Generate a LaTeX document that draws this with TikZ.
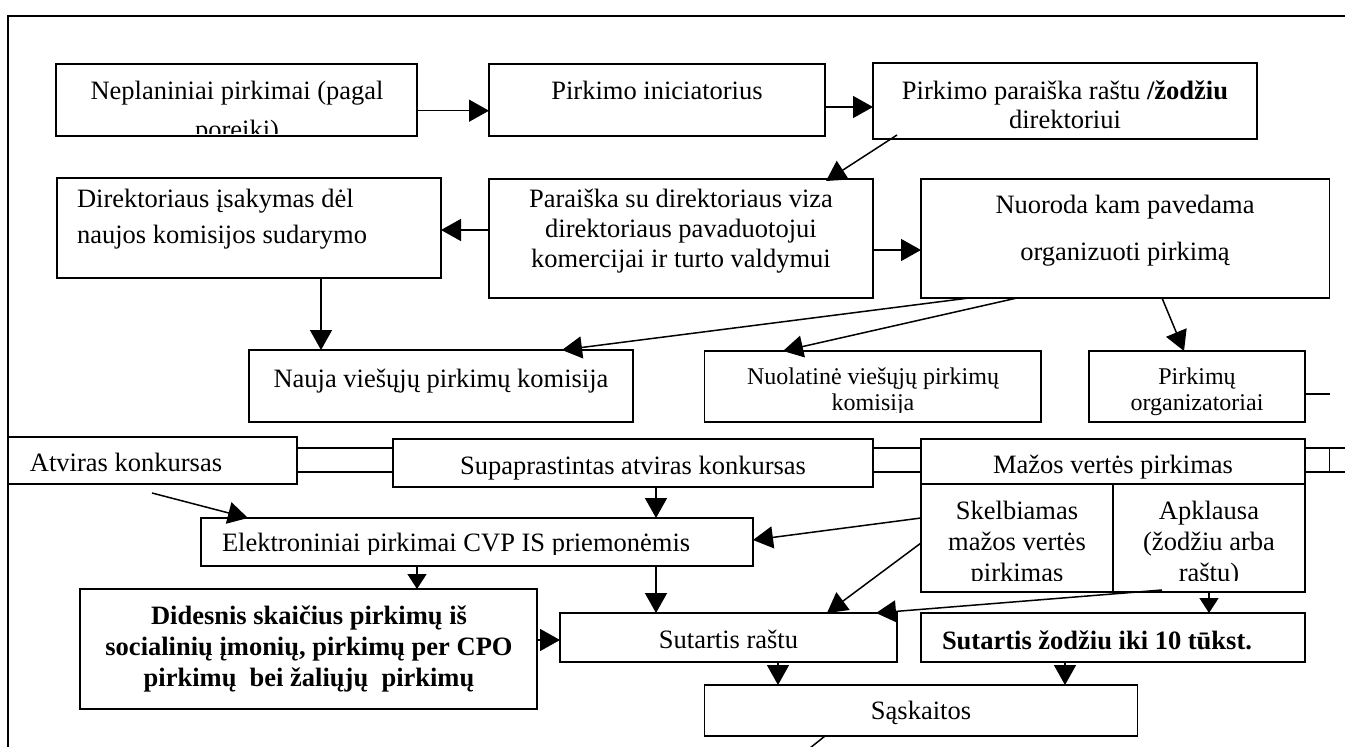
\documentclass[tikz,border=0pt]{standalone}
\usepackage{fontspec}
\setmainfont{Liberation Serif}
\usetikzlibrary{arrows.meta}

\tikzset{
  frameline/.style={line width=2pt},
  box/.style={draw, line width=1.8pt, rectangle, inner sep=0pt, outer sep=0pt},
  lbl/.style={inner sep=0pt, outer sep=0pt, anchor=base, font=\fontsize{26.5}{31}\selectfont},
  lblsm/.style={lbl, font=\fontsize{24}{28}\selectfont},
  lblb/.style={lbl, font=\fontsize{26.5}{31}\selectfont\bfseries},
  arr/.style={line width=1.5pt, -{Triangle[length=20pt,width=22pt]}},
  arrshort/.style={line width=1.5pt, -{Triangle[length=15pt,width=19pt]}},
  link/.style={line width=1.5pt},
}

% box name, left, top, right, bottom
\newcommand\mkbox[5]{%
  \node[box, minimum width={#4-#2}, minimum height={#5-#3}] (#1) at ({(#2+#4)/2},{(#3+#5)/2}) {};}

\begin{document}
\begin{tikzpicture}[x=1pt,y=-1pt]
\useasboundingbox (0,0) rectangle (1345,747);
\fill[white] (0,0) rectangle (1345,747);

% outer frame (top and left sides)
\draw[frameline] (8,748) -- (8,16) -- (1346,16);

% boxes
\mkbox{nep}{56}{64}{417}{136}
\mkbox{inic}{489}{64}{825}{136}
\mkbox{parr}{873}{63}{1257}{139}
\mkbox{ord}{57}{178}{441}{278}
\mkbox{viza}{489}{179}{873}{298}
\mkbox{nuor}{921}{179}{1329.5}{298}
\mkbox{nauja}{249}{350}{633}{422}
\mkbox{nuol}{704.5}{351}{1041}{422}
\mkbox{org}{1089}{351}{1305}{422}
\mkbox{atv}{8}{437}{297}{484}
\mkbox{sup}{393}{439}{873}{487}
\mkbox{maz}{921}{439}{1305}{484}
\mkbox{skel}{921}{484}{1113}{592}
\mkbox{apk}{1113}{484}{1305}{592}
\mkbox{elek}{201}{518}{753}{566}
\mkbox{did}{80}{589}{537}{709}
\mkbox{sutr}{560}{613}{897}{662}
\mkbox{sutz}{921}{613}{1305}{662}
\mkbox{sask}{704.5}{685}{1137.5}{736}

% texts
\node[lbl] (t-nep1) at (237,99) {Neplaniniai pirkimai (pagal};
\begin{scope}
  \clip (56,64) rectangle (417,133.5);
  \node[lbl] (t-nep2) at (237,138) {poreikį)};
\end{scope}
\node[lbl] (t-inic) at (657,99) {Pirkimo iniciatorius};
\node[lbl] (t-parr1) at (1065,99) {Pirkimo paraiška raštu \textbf{/žodžiu}};
\node[lbl] (t-parr2) at (1065,128) {direktoriui};

\node[lbl, anchor=base west] (t-ord1) at (77,207) {Direktoriaus įsakymas dėl};
\node[lbl, anchor=base west] (t-ord2) at (77,243) {naujos komisijos sudarymo};

\node[lbl] (t-viza1) at (681,207) {Paraiška su direktoriaus viza};
\node[lbl] (t-viza2) at (681,237) {direktoriaus pavaduotojui};
\node[lbl] (t-viza3) at (681,267) {komercijai ir turto valdymui};

\node[lbl] (t-nuor1) at (1125,213) {Nuoroda kam pavedama};
\node[lbl] (t-nuor2) at (1125,260) {organizuoti pirkimą};

\node[lbl] (t-nauja) at (441,387) {Nauja viešųjų pirkimų komisija};

\node[lblsm] (t-nuol1) at (873,384) {Nuolatinė viešųjų pirkimų};
\begin{scope}
  \clip (704.5,351) rectangle (1041,412.5);
  \node[lblsm] (t-nuol2) at (873,410) {komisija};
\end{scope}

\node[lblsm] (t-org1) at (1197,384) {Pirkimų};
\node[lblsm] (t-org2) at (1197,410) {organizatoriai};

\node[lbl, anchor=base west] (t-atv) at (30,471) {Atviras konkursas};
\node[lbl] (t-sup) at (633,474) {Supaprastintas atviras konkursas};
\node[lbl] (t-maz) at (1113,473) {Mažos vertės pirkimas};

\node[lbl] (t-skel1) at (1017,519) {Skelbiamas};
\node[lbl] (t-skel2) at (1017,550) {mažos vertės};
\node[lbl] (t-apk1) at (1209,519) {Apklausa};
\node[lbl] (t-apk2) at (1209,550) {(žodžiu arba};
\begin{scope}
  \clip (921,484) rectangle (1305,580.5);
  \node[lbl] (t-skel3) at (1017,581) {pirkimas};
  \node[lbl] (t-apk3) at (1209,581) {raštu)};
\end{scope}

\begin{scope}
  \clip (201,518) rectangle (753,554.5);
  \node[lbl, anchor=base west] (t-elek) at (222,551) {Elektroniniai pirkimai CVP IS priemonėmis};
\end{scope}

\node[lblb] (t-did1) at (309,624) {Didesnis skaičius pirkimų iš};
\node[lblb] (t-did2) at (309,655) {socialinių įmonių, pirkimų per CPO};
\node[lblb] (t-did3) at (309,686) {pirkimų\ \ bei žaliųjų\ \ pirkimų};

\node[lbl] (t-sutr) at (728.5,648) {Sutartis raštu};
\node[lblb, anchor=base west] (t-sutz) at (942,649) {Sutartis žodžiu iki 10 tūkst.};
\node[lbl] (t-sask) at (921,719) {Sąskaitos};

% free ends
\coordinate (orgend) at (1329.5,394);
\coordinate (rtop) at (1346,448);
\coordinate (rbot) at (1346,472);
\coordinate (ticktop) at (1329.5,448);
\coordinate (tickbot) at (1329.5,472);
\coordinate (atvstart) at (152,493);
\coordinate (saskend) at (810,748);

% upper flow
\draw[arr] ([yshift=-10.7pt]nep.east) -- ([yshift=-10.7pt]inic.west);
\draw[arr] ([yshift=-7pt]inic.east) -- ([yshift=-6pt]parr.west);
\draw[arr] ([xshift=-168pt,yshift=4pt]parr.south) -- ([xshift=145pt,yshift=-2pt]viza.north);
\draw[arr] ([yshift=8.5pt]viza.west) -- ([yshift=-2pt]ord.east);
\draw[arr] ([yshift=-11.5pt]viza.east) -- ([yshift=-11.5pt]nuor.west);
\draw[arr] ([xshift=72pt]ord.south) -- ([xshift=-120pt]nauja.north);
\draw[arr] ([xshift=-156.25pt]nuor.south) -- ([xshift=121pt]nauja.north);
\draw[arr] ([xshift=-108.25pt]nuor.south) -- ([xshift=-89.75pt]nuol.north);
\draw[arr] ([xshift=36.75pt]nuor.south) -- ([xshift=-13pt]org.north);
\draw[link] ([yshift=-7.5pt]org.east) -- (orgend);

% double links between the procedure boxes
\draw[link] ([yshift=12.5pt]atv.east) -- ([yshift=15pt]sup.west);
\draw[link] ([yshift=-11.5pt]atv.east) -- ([yshift=-9pt]sup.west);
\draw[link] ([yshift=15pt]sup.east) -- ([yshift=13.5pt]maz.west);
\draw[link] ([yshift=-9pt]sup.east) -- ([yshift=-10.5pt]maz.west);
\draw[link] ([yshift=13.5pt]maz.east) -- (rtop);
\draw[link] ([yshift=-10.5pt]maz.east) -- (rbot);
\draw[link] (ticktop) -- (tickbot);

% lower flow
\draw[arr] (atvstart) -- ([xshift=-229pt]elek.north);
\draw[arr] ([xshift=23pt]sup.south) -- ([xshift=179pt]elek.north);
\draw[arr] ([yshift=20pt]skel.west) -- ([yshift=2pt]elek.east);
\draw[arr] ([yshift=-5pt]skel.west) -- ([xshift=98.5pt]sutr.north);
\draw[arr] ([xshift=-47pt,yshift=2pt]apk.south) -- ([xshift=147.5pt]sutr.north);
\draw[arrshort] (apk.south) -- ([xshift=96pt]sutz.north);
\draw[arrshort] ([xshift=-60pt]elek.south) -- ([xshift=108.5pt]did.north);
\draw[arr] ([xshift=179pt]elek.south) -- ([xshift=-72.5pt]sutr.north);
\draw[arr] ([yshift=9pt]did.east) -- ([yshift=-2.5pt]sutr.west);
\draw[arr] ([xshift=49.5pt]sutr.south) -- ([xshift=-143pt]sask.north);
\draw[arr] ([xshift=-48pt]sutz.south) -- ([xshift=144pt]sask.north);
\draw[link] ([xshift=-96pt]sask.south) -- (saskend);
\end{tikzpicture}
\end{document}
